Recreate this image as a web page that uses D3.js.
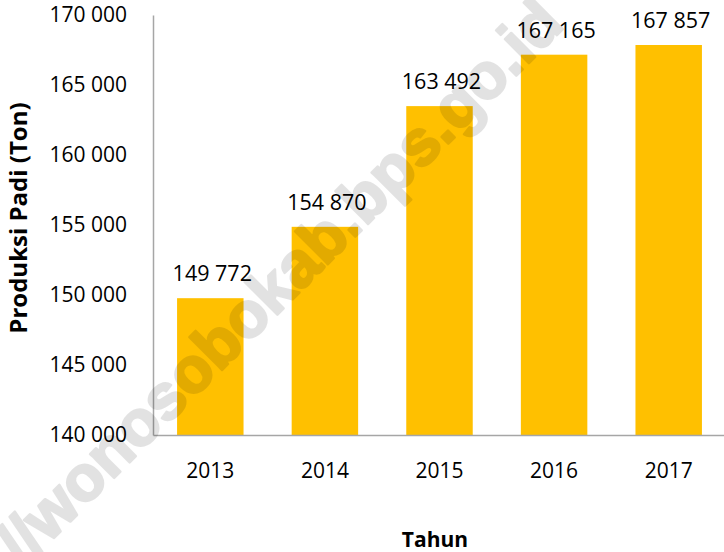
<!DOCTYPE html>
<html>
<head>
<meta charset="utf-8">
<script src="https://cdn.jsdelivr.net/npm/d3@7"></script>
<style>
  body { margin: 0; background: #fff; }
  svg { display: block; font-family: "Open Sans", sans-serif; }
</style>
</head>
<body>
<div id="chart"></div>
<script>
// Data________________________________________________
const years = ["2013", "2014", "2015", "2016", "2017"];
const produksi = [149772, 154870, 163492, 167165, 167857];
const yTicks = [140000, 145000, 150000, 155000, 160000, 165000, 170000];

const width = 724, height = 552;
const margin = {left: 153, right: 0, top: 15, bottom: 117};

const fmt = d3.formatLocale({decimal: ",", thousands: " ", grouping: [3], currency: ["", ""]}).format(",d");

const svg = d3.select("#chart")
    .append("svg")
    .attr("width", width)
    .attr("height", height);

const xScale = d3.scaleBand()
    .domain(years)
    .range([margin.left, width + 2])
    .paddingInner(0.42)
    .paddingOuter(0.21);

const yScale = d3.scaleLinear()
    .domain([140000, 170000])
    .range([height - margin.bottom, margin.top]);

// Bars
svg.selectAll("rect.bar")
    .data(produksi)
    .enter()
    .append("rect")
    .attr("class", "bar")
    .attr("x", (d, i) => xScale(years[i]))
    .attr("y", d => yScale(d))
    .attr("width", xScale.bandwidth())
    .attr("height", d => yScale(140000) - yScale(d))
    .attr("fill", "#FFC000");

// Value labels
svg.selectAll("text.val")
    .data(produksi)
    .enter()
    .append("text")
    .attr("class", "val")
    .attr("x", (d, i) => xScale(years[i]) + xScale.bandwidth() / 2 + 2)
    .attr("y", d => yScale(d) - 17)
    .attr("text-anchor", "middle")
    .attr("font-size", 21.5)
    .attr("fill", "#000")
    .text(d => fmt(d));

// Axes
const yAxis = d3.axisLeft(yScale).tickValues(yTicks).tickSize(0).tickPadding(26).tickFormat(fmt);
const gy = svg.append("g")
    .attr("transform", `translate(${margin.left},0)`)
    .call(yAxis);
gy.select(".domain").attr("stroke", "#a6a6a6").attr("stroke-width", 1.5);
gy.selectAll("text").attr("font-size", 21).attr("fill", "#000").attr("font-family", "Open Sans");

const xAxis = d3.axisBottom(xScale).tickSize(0).tickPadding(28);
const gx = svg.append("g")
    .attr("transform", `translate(0,${height - margin.bottom})`)
    .call(xAxis);
gx.select(".domain").attr("stroke", "#a6a6a6").attr("stroke-width", 1.5);
gx.selectAll("text").attr("font-size", 21).attr("fill", "#000").attr("font-family", "Open Sans");

// Axis titles
svg.append("text")
    .attr("transform", "translate(27,218) rotate(-90)")
    .attr("text-anchor", "middle")
    .attr("font-size", 24)
    .attr("font-weight", "bold")
    .text("Produksi Padi (Ton)");

svg.append("text")
    .attr("x", 435)
    .attr("y", 547)
    .attr("text-anchor", "middle")
    .attr("font-size", 21)
    .attr("font-weight", "bold")
    .text("Tahun");

// Watermark
svg.append("g")
    .attr("opacity", 0.11)
    .append("text")
    .attr("transform", "translate(566,26) rotate(-45)")
    .attr("text-anchor", "end")
    .attr("font-family", "Liberation Sans, Arial, sans-serif")
    .attr("font-weight", "bold")
    .attr("font-size", 64)
    .attr("fill", "#000")
    .attr("stroke", "#000")
    .attr("stroke-width", 2.5)
    .attr("stroke-linejoin", "round")
    .text("http://wonosobokab.bps.go.id");
</script>
</body>
</html>
